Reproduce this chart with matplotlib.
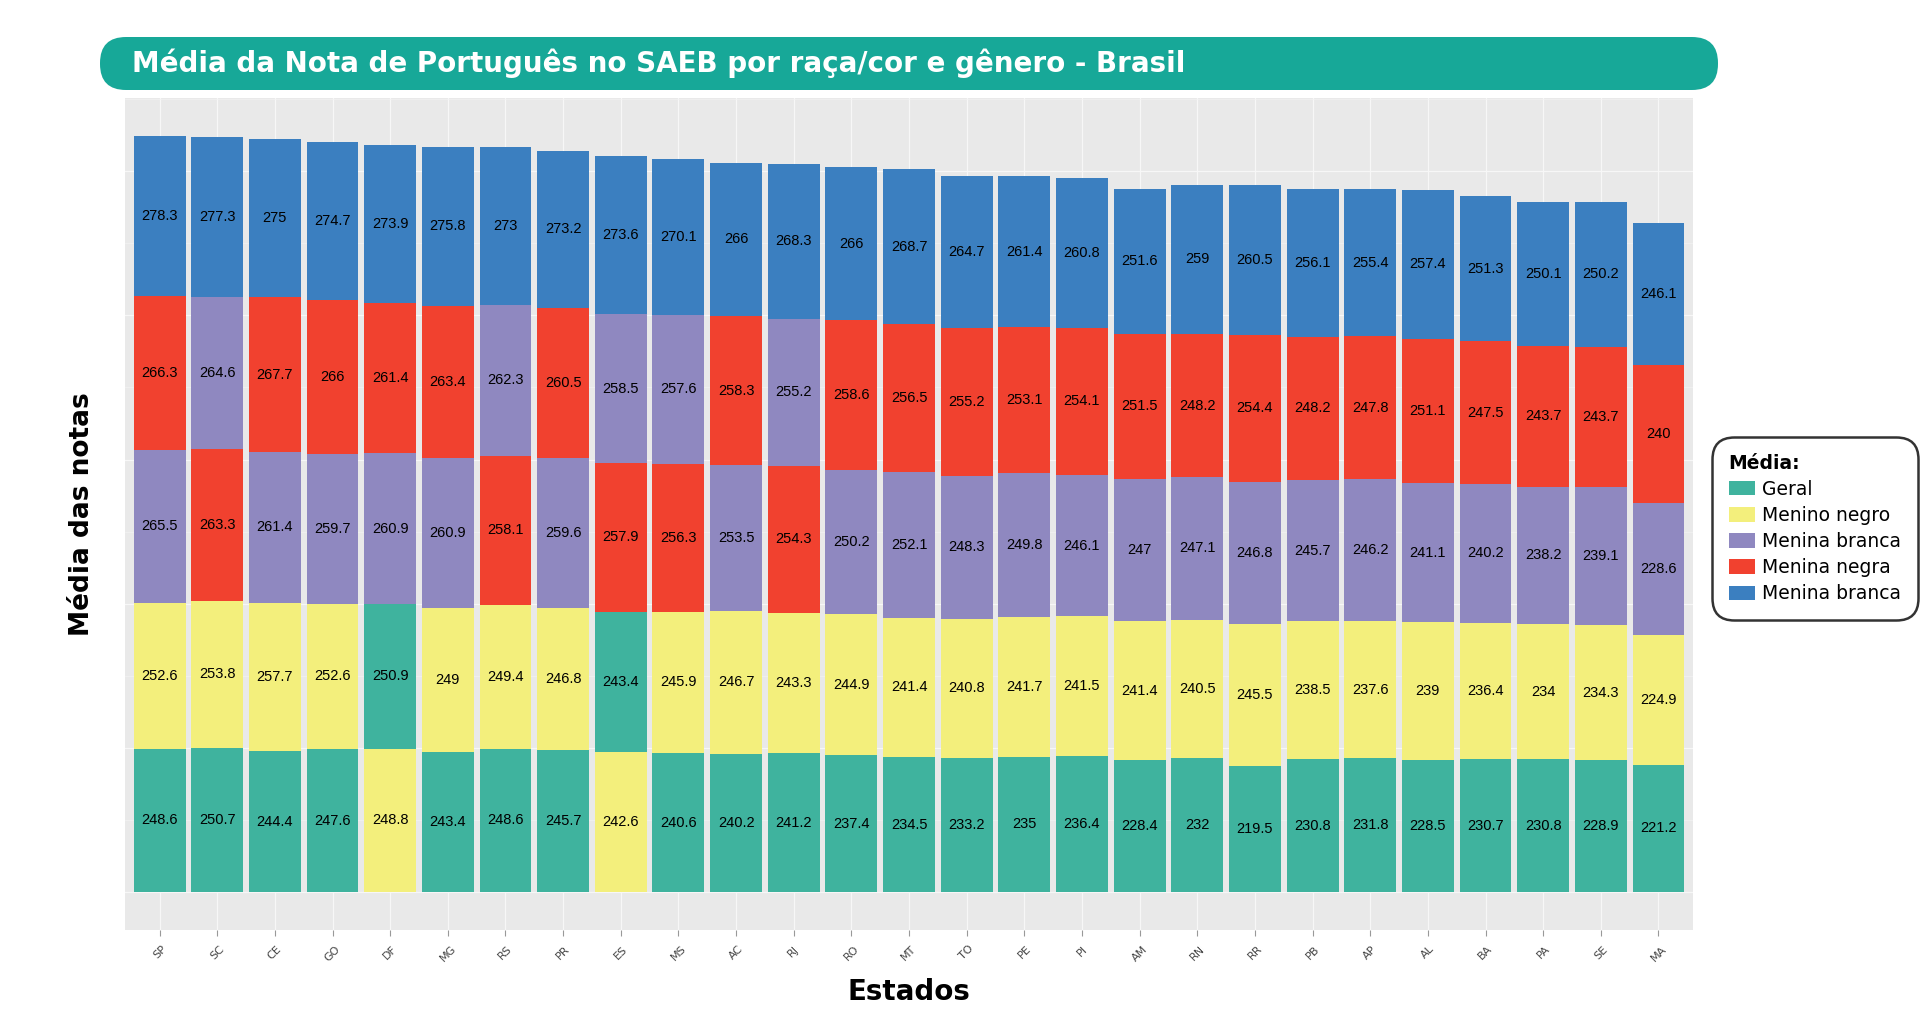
import numpy as np
import matplotlib.pyplot as plt
from matplotlib.patches import FancyBboxPatch, Patch
from matplotlib.ticker import MultipleLocator, NullFormatter

# States, ordered as in the chart
estados = ['SP', 'SC', 'CE', 'GO', 'DF', 'MG', 'RS', 'PR', 'ES', 'MS', 'AC', 'RJ', 'RO', 'MT',
           'TO', 'PE', 'PI', 'AM', 'RN', 'RR', 'PB', 'AP', 'AL', 'BA', 'PA', 'SE', 'MA']

geral = [248.6, 250.7, 244.4, 247.6, 250.9, 243.4, 248.6, 245.7, 243.4, 240.6, 240.2, 241.2, 237.4, 234.5,
         233.2, 235.0, 236.4, 228.4, 232.0, 219.5, 230.8, 231.8, 228.5, 230.7, 230.8, 228.9, 221.2]
menino_negro = [252.6, 253.8, 257.7, 252.6, 248.8, 249.0, 249.4, 246.8, 242.6, 245.9, 246.7, 243.3, 244.9, 241.4,
                240.8, 241.7, 241.5, 241.4, 240.5, 245.5, 238.5, 237.6, 239.0, 236.4, 234.0, 234.3, 224.9]
menina_branca = [265.5, 264.6, 261.4, 259.7, 260.9, 260.9, 262.3, 259.6, 258.5, 257.6, 253.5, 255.2, 250.2, 252.1,
                 248.3, 249.8, 246.1, 247.0, 247.1, 246.8, 245.7, 246.2, 241.1, 240.2, 238.2, 239.1, 228.6]
menina_negra = [266.3, 263.3, 267.7, 266.0, 261.4, 263.4, 258.1, 260.5, 257.9, 256.3, 258.3, 254.3, 258.6, 256.5,
                255.2, 253.1, 254.1, 251.5, 248.2, 254.4, 248.2, 247.8, 251.1, 247.5, 243.7, 243.7, 240.0]
menino_branco = [278.3, 277.3, 275.0, 274.7, 273.9, 275.8, 273.0, 273.2, 273.6, 270.1, 266.0, 268.3, 266.0, 268.7,
                 264.7, 261.4, 260.8, 251.6, 259.0, 260.5, 256.1, 255.4, 257.4, 251.3, 250.1, 250.2, 246.1]

series = [geral, menino_negro, menina_branca, menina_negra, menino_branco]
legend_labels = ['Geral', 'Menino negro', 'Menina branca', 'Menina negra', 'Menina branca']
colors = ['#3fb39e', '#f3ef7c', '#8f88c0', '#f1412f', '#3b7fc0']

fig = plt.figure(figsize=(19.2, 10.26), dpi=100)
ax = fig.add_axes([0.0651, 0.0936, 0.8167, 0.8109])
ax.set_facecolor('#e9e9e9')

x = np.arange(len(estados))
# each bar is stacked with the smallest value at the bottom
for i in range(len(estados)):
    vals = [s[i] for s in series]
    order = np.argsort(vals)
    bottom = 0
    for k in order:
        v = vals[k]
        ax.bar(x[i], v, bottom=bottom, width=0.9, color=colors[k], zorder=2)
        ax.text(x[i], bottom + v / 2, '%g' % v, ha='center', va='center', fontsize=10.5,
                family='Liberation Sans', color='black', zorder=3)
        bottom += v

ymax = max(sum(s[i] for s in series) for i in range(len(estados)))
ax.set_ylim(-0.05 * ymax, 1.05 * ymax)
ax.set_xlim(-0.6, len(estados) - 0.4)

ax.yaxis.set_major_locator(MultipleLocator(250))
ax.yaxis.set_minor_locator(MultipleLocator(125))
ax.yaxis.set_major_formatter(NullFormatter())
ax.tick_params(axis='y', which='both', length=0)
ax.grid(True, which='major', color='#f7f7f7', linewidth=0.9, zorder=0)
ax.grid(True, which='minor', axis='y', color='#f3f3f3', linewidth=0.5, zorder=0)
ax.set_axisbelow(True)

ax.set_xticks(x)
ax.set_xticklabels(estados, rotation=45, ha='center', fontsize=8, color='#444444')
ax.tick_params(axis='x', length=4, color='#999999', pad=6)
for sp in ax.spines.values():
    sp.set_visible(False)

ax.set_xlabel('Estados', fontsize=20, fontweight='bold', labelpad=10)
ax.set_ylabel('Média das notas', fontsize=19, fontweight='bold', labelpad=18)

# title banner
banner = FancyBboxPatch((1.0, 9.36), 16.18, 0.53, boxstyle='round,pad=0,rounding_size=0.26',
                        transform=fig.dpi_scale_trans, facecolor='#17a898', edgecolor='none')
fig.patches.append(banner)
fig.text(0.069, 0.9386, 'Média da Nota de Português no SAEB por raça/cor e gênero - Brasil',
         color='white', fontsize=20, fontweight='bold', va='center', ha='left')

# legend
handles = [Patch(facecolor=c, edgecolor='none') for c in colors]
leg = fig.legend(handles, legend_labels, title='Média:', loc='upper left',
                 bbox_to_anchor=(0.8896, 0.578), fontsize=13.5,
                 title_fontproperties={'weight': 'bold', 'size': 13.5},
                 alignment='left', frameon=True, handlelength=1.4, handleheight=0.8,
                 handletextpad=0.4, labelspacing=0.38, borderpad=0.6)
frame = leg.get_frame()
frame.set_edgecolor('black')
frame.set_linewidth(1.8)
frame.set_boxstyle('round', pad=0.3, rounding_size=1.2)

fig.savefig('out.png', dpi=100)
